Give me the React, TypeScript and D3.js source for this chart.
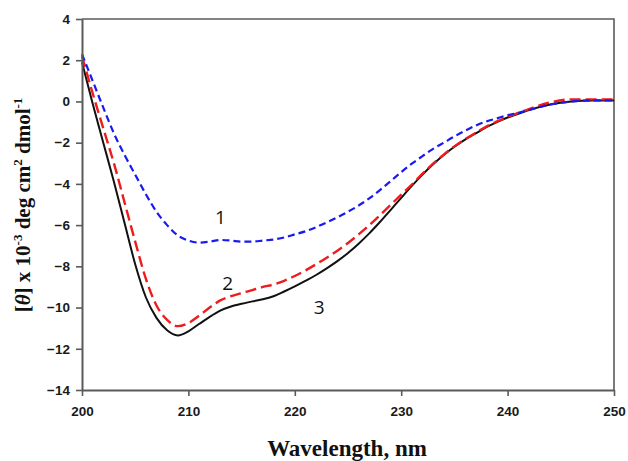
import { useRef, useEffect } from 'react';
import * as d3 from 'd3';

const WIDTH = 628;
const HEIGHT = 461;
const MARGIN = { top: 19, right: 14, bottom: 71, left: 82 };

const WAVELENGTH = [
  200, 201, 202, 203, 204, 205, 206, 207, 208, 209, 210, 211, 212, 213, 214, 215,
  216, 217, 218, 219, 220, 221, 222, 223, 224, 225, 226, 227, 228, 229, 230, 231,
  232, 233, 234, 235, 236, 237, 238, 239, 240, 241, 242, 244, 246, 248, 250,
];

// curve 1 (blue, short dash)
const CURVE_1 = [
  2.3, 1.0, -0.3, -1.55, -2.6, -3.55, -4.5, -5.35, -6.0, -6.5, -6.75, -6.85, -6.8, -6.72, -6.75, -6.8,
  -6.8, -6.75, -6.7, -6.6, -6.45, -6.3, -6.1, -5.87, -5.62, -5.35, -5.05, -4.7, -4.3, -3.87, -3.43, -3.02,
  -2.65, -2.3, -2.0, -1.7, -1.42, -1.17, -0.97, -0.82, -0.67, -0.55, -0.42, -0.15, 0.0, 0.05, 0.05,
];

// curve 2 (red, long dash)
const CURVE_2 = [
  2.2, 0.4, -1.3, -3.0, -4.9, -6.8, -8.6, -9.9, -10.6, -10.9, -10.75, -10.4, -10.0, -9.65, -9.45, -9.3,
  -9.15, -9.0, -8.88, -8.7, -8.47, -8.2, -7.9, -7.58, -7.24, -6.87, -6.45, -6.0, -5.52, -5.02, -4.52, -4.03,
  -3.5, -3.02, -2.58, -2.18, -1.83, -1.52, -1.22, -0.97, -0.75, -0.56, -0.37, -0.05, 0.1, 0.1, 0.1,
];

// curve 3 (black, solid)
const CURVE_3 = [
  1.9, -0.1, -2.0, -3.9, -5.9, -7.9, -9.5, -10.5, -11.1, -11.35, -11.15, -10.8, -10.45, -10.15, -9.95, -9.82,
  -9.7, -9.6, -9.45, -9.22, -8.97, -8.7, -8.42, -8.1, -7.75, -7.35, -6.9, -6.4, -5.85, -5.27, -4.68, -4.1,
  -3.55, -3.05, -2.6, -2.2, -1.85, -1.55, -1.25, -1.0, -0.78, -0.6, -0.42, -0.15, 0.0, 0.05, 0.05,
];

const X_TICKS = [200, 210, 220, 230, 240, 250];
const Y_TICKS = [4, 2, 0, -2, -4, -6, -8, -10, -12, -14];

const SERIES = [
  { name: '3', values: CURVE_3, color: '#111111', width: 2, dash: null },
  { name: '2', values: CURVE_2, color: '#ee1c1c', width: 2.4, dash: '11,5' },
  { name: '1', values: CURVE_1, color: '#1a1aee', width: 2.2, dash: '7,4' },
];

// curve labels placed at (wavelength, value) of their baseline
const LABELS = [
  { text: '1', x: 213.0, y: -5.95 },
  { text: '2', x: 213.7, y: -9.15 },
  { text: '3', x: 222.3, y: -10.3 },
];

export default function App() {
  const svgRef = useRef<SVGSVGElement>(null);

  useEffect(() => {
    const svg = d3.select(svgRef.current);
    svg.selectAll('*').remove();

    const innerW = WIDTH - MARGIN.left - MARGIN.right;
    const innerH = HEIGHT - MARGIN.top - MARGIN.bottom;

    const x = d3.scaleLinear().domain([200, 250]).range([0, innerW]);
    const y = d3.scaleLinear().domain([-14, 4]).range([innerH, 0]);

    const g = svg.append('g').attr('transform', `translate(${MARGIN.left},${MARGIN.top})`);

    // frame (top + right)
    g.append('path')
      .attr('d', `M0,0H${innerW}V${innerH}`)
      .attr('fill', 'none')
      .attr('stroke', '#5a5a5a')
      .attr('stroke-width', 1.6);

    // series
    const line = d3.line<number>()
      .x((_, i) => x(WAVELENGTH[i]))
      .y(d => y(d))
      .curve(d3.curveMonotoneX);

    SERIES.forEach(s => {
      g.append('path')
        .datum(s.values)
        .attr('fill', 'none')
        .attr('stroke', s.color)
        .attr('stroke-width', s.width)
        .attr('stroke-dasharray', s.dash)
        .attr('d', line);
    });

    // curve labels
    g.selectAll('.curve-label')
      .data(LABELS)
      .join('text')
      .attr('class', 'curve-label')
      .attr('x', d => x(d.x))
      .attr('y', d => y(d.y))
      .attr('text-anchor', 'middle')
      .attr('font-family', '"Open Sans", sans-serif')
      .attr('font-size', 19)
      .attr('fill', '#111')
      .text(d => d.text);

    // axes
    const xAxis = g.append('g')
      .attr('transform', `translate(0,${innerH})`)
      .call(d3.axisBottom(x).tickValues(X_TICKS).tickSize(6).tickSizeOuter(0).tickPadding(10));
    const yAxis = g.append('g')
      .call(d3.axisLeft(y).tickValues(Y_TICKS).tickSize(6).tickSizeOuter(0).tickPadding(6));

    [xAxis, yAxis].forEach(a => {
      a.select('.domain').attr('stroke', '#5a5a5a').attr('stroke-width', 2);
      a.selectAll('.tick line').attr('stroke', '#5a5a5a').attr('stroke-width', 1.6);
      a.selectAll('.tick text')
        .attr('fill', '#1a1a1a')
        .attr('font-family', 'Arial, "Liberation Sans", sans-serif')
        .attr('font-weight', 'bold')
        .attr('font-size', 13.5);
    });

    // x title
    svg.append('text')
      .attr('x', 347)
      .attr('y', 456)
      .attr('text-anchor', 'middle')
      .attr('font-family', '"Times New Roman", "Liberation Serif", serif')
      .attr('font-weight', 'bold')
      .attr('font-size', 23)
      .attr('fill', '#111')
      .text('Wavelength, nm');

    // y title
    const yt = svg.append('text')
      .attr('transform', 'translate(30,205) rotate(-90)')
      .attr('text-anchor', 'middle')
      .attr('font-family', '"Times New Roman", "Liberation Serif", serif')
      .attr('font-weight', 'bold')
      .attr('font-size', 21)
      .attr('fill', '#111');
    yt.append('tspan').text('[');
    yt.append('tspan').attr('font-style', 'italic').text('θ');
    yt.append('tspan').text('] x 10');
    yt.append('tspan').attr('font-size', 13).attr('dy', -8).text('-3');
    yt.append('tspan').attr('dy', 8).text(' deg cm');
    yt.append('tspan').attr('font-size', 13).attr('dy', -8).text('2');
    yt.append('tspan').attr('dy', 8).text(' dmol');
    yt.append('tspan').attr('font-size', 13).attr('dy', -8).text('-1');
  }, []);

  return (
    <div style={{ position: 'absolute', left: 0, top: 0, background: '#fff' }}>
      <svg ref={svgRef} width={WIDTH} height={HEIGHT} style={{ display: 'block' }} />
    </div>
  );
}
